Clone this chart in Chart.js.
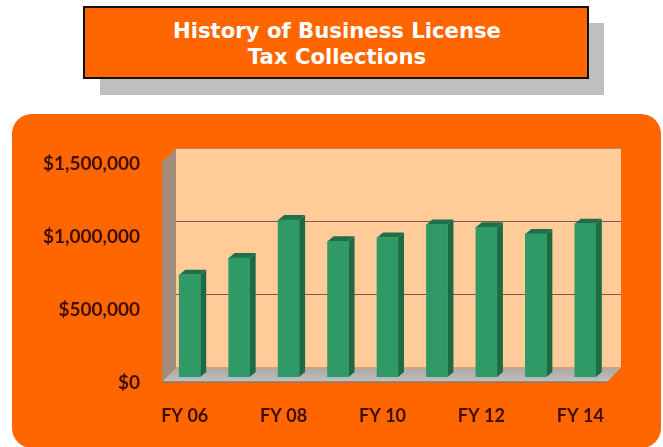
<!DOCTYPE html>
<html>
<head>
<meta charset="utf-8">
<script src="https://cdn.jsdelivr.net/npm/chart.js@4"></script>
<style>
  html,body{margin:0;padding:0;background:#fff;width:663px;height:447px;overflow:hidden}
  #shadow{position:absolute;left:100px;top:23px;width:504px;height:72px;background:#bfbfbf}
  #title{position:absolute;left:83px;top:6px;width:502px;height:69px;background:#ff6600;border:2px solid #111;
    color:#fff;font:bold 21.2px/26px "DejaVu Sans",sans-serif;text-align:center;display:flex;align-items:center;justify-content:center}
  #title span{position:relative;top:1px;left:1px}
  #panel{position:absolute;left:12px;top:114px;width:649px;height:334px;background:#ff6600;border-radius:20px}
  canvas{position:absolute;left:0;top:0;filter:blur(0.6px)}
</style>
</head>
<body>
<div id="shadow"></div>
<div id="title"><span>History of Business License<br>Tax Collections</span></div>
<div id="panel"></div>
<canvas id="c" width="663" height="447"></canvas>
<script>
const categories = ["FY 06","FY 07","FY 08","FY 09","FY 10","FY 11","FY 12","FY 13","FY 14"];
const collections = [700000,815000,1075000,930000,955000,1045000,1025000,980000,1050000];
const tickValues = [0,500000,1000000,1500000];

const WALL = {dx:11, dy:-9.5};
const FLOOR = {dx:-3, dy:5};
const BAR = {dx:6, dy:-5};

const depthPlugin = {
  id:'depth',
  beforeDatasetsDraw(chart){
    const {ctx, chartArea:a, scales:{y}} = chart;
    const y0 = y.getPixelForValue(0), yT = y.getPixelForValue(1500000);
    const L = a.left, R = a.right;
    ctx.save();
    // back wall
    ctx.fillStyle = '#ffcc99';
    ctx.fillRect(L+WALL.dx, yT+WALL.dy, R-L, y0-yT);
    ctx.strokeStyle = '#b8855e'; ctx.lineWidth = 1;
    ctx.beginPath(); ctx.moveTo(L+WALL.dx, yT+WALL.dy); ctx.lineTo(R+WALL.dx, yT+WALL.dy); ctx.stroke();
    // left wall
    ctx.fillStyle = '#a28c7a';
    ctx.beginPath();
    ctx.moveTo(L+WALL.dx, yT+WALL.dy);
    ctx.lineTo(L+FLOOR.dx, yT+WALL.dy+14);
    ctx.lineTo(L+FLOOR.dx, y0+FLOOR.dy);
    ctx.lineTo(L+WALL.dx, y0+WALL.dy);
    ctx.closePath(); ctx.fill();
    // floor
    const g = ctx.createLinearGradient(0, y0+WALL.dy, 0, y0+FLOOR.dy);
    g.addColorStop(0,'#b3a79d'); g.addColorStop(0.35,'#b5aea8'); g.addColorStop(1,'#bcc2c8');
    ctx.fillStyle = g;
    ctx.beginPath();
    ctx.moveTo(L+WALL.dx, y0+WALL.dy);
    ctx.lineTo(R+WALL.dx, y0+WALL.dy);
    ctx.lineTo(R+FLOOR.dx, y0+FLOOR.dy);
    ctx.lineTo(L+FLOOR.dx, y0+FLOOR.dy);
    ctx.closePath(); ctx.fill();
    ctx.strokeStyle = '#94765f'; ctx.lineWidth = 1.5;
    ctx.beginPath(); ctx.moveTo(L+FLOOR.dx, y0+FLOOR.dy); ctx.lineTo(R+FLOOR.dx, y0+FLOOR.dy); ctx.stroke();
    // gridlines on the back wall
    ctx.strokeStyle = '#7d5a46'; ctx.lineWidth = 1;
    tickValues.slice(1,3).forEach(v=>{
      const py = Math.floor(y.getPixelForValue(v)+WALL.dy)+0.5;
      ctx.beginPath(); ctx.moveTo(L+WALL.dx, py); ctx.lineTo(R+WALL.dx, py); ctx.stroke();
    });
    // bar side and cap faces
    chart.getDatasetMeta(0).data.forEach(b=>{
      const r = b.x + b.width/2, l = b.x - b.width/2;
      ctx.fillStyle = '#1d6a45';
      ctx.beginPath();
      ctx.moveTo(r, b.y); ctx.lineTo(r+BAR.dx, b.y+BAR.dy);
      ctx.lineTo(r+BAR.dx, b.base+BAR.dy); ctx.lineTo(r, b.base);
      ctx.closePath(); ctx.fill();
      ctx.fillStyle = '#1f7049';
      ctx.beginPath();
      ctx.moveTo(l, b.y); ctx.lineTo(l+BAR.dx, b.y+BAR.dy);
      ctx.lineTo(r+BAR.dx, b.y+BAR.dy); ctx.lineTo(r, b.y);
      ctx.closePath(); ctx.fill();
    });
    ctx.restore();
  }
};

new Chart(document.getElementById('c'), {
  type:'bar',
  data:{labels:categories, datasets:[{data:collections, backgroundColor:'#2f9a66', borderWidth:0, barThickness:21}]},
  plugins:[depthPlugin],
  options:{
    responsive:false, animation:false,
    layout:{padding:{top:158,right:53,bottom:0,left:0}},
    plugins:{legend:{display:false},tooltip:{enabled:false},title:{display:false}},
    scales:{
      x:{
        grid:{display:false,drawTicks:false}, border:{display:false},
        afterFit(s){s.height=70;},
        ticks:{
          autoSkip:false,maxRotation:0,minRotation:0,padding:28,labelOffset:-5,
          color:'#3f0f06',font:{family:'Lato',size:18,weight:'bold'},
          callback(v,i){return i%2===0?this.getLabelForValue(v):'';}
        }
      },
      y:{
        min:0,max:1500000,
        afterBuildTicks(s){s.ticks=tickValues.map(value=>({value}));},
        afterFit(s){s.width=165;},
        grid:{display:false,drawTicks:false}, border:{display:false},
        ticks:{
          padding:25,labelOffset:6,
          color:'#3f0f06',font:{family:'Lato',size:19,weight:'bold'},
          callback(v){return '$'+Number(v).toLocaleString('en-US');}
        }
      }
    }
  }
});
</script>
</body>
</html>
